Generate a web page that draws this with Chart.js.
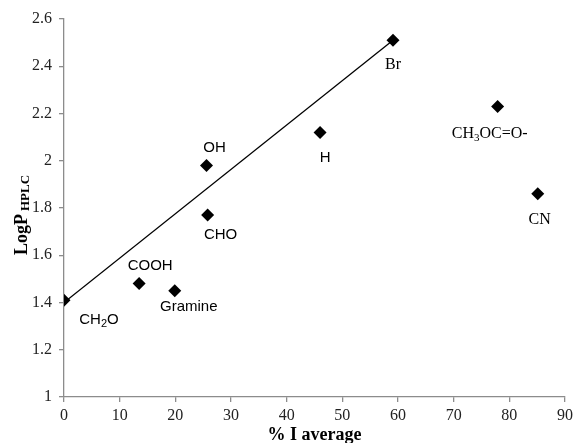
<!DOCTYPE html>
<html>
<head>
<meta charset="utf-8">
<script src="https://cdn.jsdelivr.net/npm/chart.js@4.4.0/dist/chart.umd.min.js"></script>
<style>
  html, body { margin: 0; padding: 0; background: #fff; }
  #wrap { width: 577px; height: 443px; }
</style>
</head>
<body>
<div id="wrap"><canvas id="chart" width="577" height="443"></canvas></div>
<script>
// compounds, % I average vs LogP(HPLC)
const names = ['CH_2O', 'COOH', 'Gramine', 'OH', 'CHO', 'H', 'Br', 'CH_3OC=O-', 'CN'];
const pctI = [0, 13.5, 19.9, 25.6, 25.8, 46.0, 59.1, 77.9, 85.1];
const logP = [1.41, 1.48, 1.45, 1.98, 1.77, 2.12, 2.51, 2.23, 1.86];
// trendline ends
const trendX = [0, 59.1];
const trendY = [1.40, 2.51];

// label placement relative to the marker (px) and font family
const labelDx = [35, 11, 14, 8, 13, 5, 0, -8, 2];
const labelDy = [20, -18, 16, -18, 20, 25, 25, 27, 26];
const labelSerif = [false, false, false, false, false, false, true, true, true];

const sansFont = '"Liberation Sans", Arial, sans-serif';
const serifFont = '"Liberation Serif", "Times New Roman", serif';

// draws text like "CH_2O" with the char after _ as subscript, centred on (cx, cy)
function drawRich(ctx, text, cx, cy, size, family, weight) {
  const parts = [];
  for (let i = 0; i < text.length; i++) {
    if (text[i] === '_' && i + 1 < text.length) { parts.push([text[i + 1], true]); i++; }
    else parts.push([text[i], false]);
  }
  const big = (weight || '') + ' ' + size + 'px ' + family;
  const small = (weight || '') + ' ' + Math.round(size * 0.7) + 'px ' + family;
  let w = 0;
  parts.forEach(p => { ctx.font = p[1] ? small : big; w += ctx.measureText(p[0]).width; });
  let x = cx - w / 2;
  ctx.textAlign = 'left';
  ctx.textBaseline = 'middle';
  parts.forEach(p => {
    ctx.font = p[1] ? small : big;
    ctx.fillText(p[0], x, p[1] ? cy + size * 0.28 : cy);
    x += ctx.measureText(p[0]).width;
  });
}

const pointLabels = {
  id: 'pointLabels',
  afterDatasetsDraw(chart) {
    const { ctx, scales: { x, y } } = chart;
    ctx.save();
    ctx.fillStyle = '#000';
    names.forEach((n, i) => {
      const px = x.getPixelForValue(pctI[i]) + labelDx[i];
      const py = y.getPixelForValue(logP[i]) + labelDy[i];
      if (labelSerif[i]) drawRich(ctx, n, px, py, 16, serifFont);
      else drawRich(ctx, n, px, py, 15, sansFont);
    });
    ctx.restore();
  },
  afterDraw(chart) {
    const { ctx } = chart;
    ctx.save();
    ctx.fillStyle = '#000';
    // y axis title, rotated, with HPLC subscript
    ctx.translate(27, 215);
    ctx.rotate(-Math.PI / 2);
    ctx.textBaseline = 'alphabetic';
    ctx.textAlign = 'left';
    ctx.font = 'bold 18px ' + serifFont;
    const w1 = ctx.measureText('LogP').width;
    ctx.font = 'bold 13px ' + serifFont;
    const w2 = ctx.measureText('HPLC').width;
    const start = -(w1 + 3 + w2) / 2;
    ctx.font = 'bold 18px ' + serifFont;
    ctx.fillText('LogP', start, 0);
    ctx.font = 'bold 13px ' + serifFont;
    ctx.fillText('HPLC', start + w1 + 3, 2);
    ctx.restore();
    // x axis title
    ctx.save();
    ctx.fillStyle = '#000';
    ctx.font = 'bold 18px ' + serifFont;
    ctx.textAlign = 'center';
    ctx.textBaseline = 'alphabetic';
    const a = chart.chartArea;
    ctx.fillText('% I average', (a.left + a.right) / 2, 440);
    ctx.restore();
  }
};

new Chart(document.getElementById('chart'), {
  data: {
    datasets: [
      {
        type: 'scatter',
        data: pctI.map((v, i) => ({ x: v, y: logP[i] })),
        pointStyle: 'rectRot',
        pointRadius: 6.5,
        pointHoverRadius: 6.5,
        backgroundColor: '#000',
        borderColor: '#000',
        borderWidth: 0
      },
      {
        type: 'line',
        data: trendX.map((v, i) => ({ x: v, y: trendY[i] })),
        borderColor: '#000',
        borderWidth: 1.3,
        pointRadius: 0,
        fill: false
      }
    ]
  },
  options: {
    responsive: false,
    animation: false,
    layout: { padding: { top: 19, right: 8, left: 0, bottom: 0 } },
    plugins: { legend: { display: false }, tooltip: { enabled: false } },
    scales: {
      x: {
        type: 'linear',
        min: 0, max: 90,
        afterFit(s) { s.height = 46; },
        border: { color: '#8c8c8c', width: 1.3 },
        grid: { drawOnChartArea: false, drawTicks: true, tickLength: 5, color: '#8c8c8c', lineWidth: 1.3 },
        ticks: { stepSize: 10, padding: 4, color: '#222', font: { family: serifFont, size: 16 }, maxRotation: 0 }
      },
      y: {
        type: 'linear',
        min: 1, max: 2.6,
        afterFit(s) { s.width = 64; },
        border: { color: '#8c8c8c', width: 1.3 },
        grid: { drawOnChartArea: false, drawTicks: true, tickLength: 5, color: '#8c8c8c', lineWidth: 1.3 },
        ticks: {
          stepSize: 0.2, padding: 7, color: '#222', font: { family: serifFont, size: 16 },
          callback: v => String(Math.round(v * 10) / 10)
        }
      }
    }
  },
  plugins: [pointLabels]
});
</script>
</body>
</html>
